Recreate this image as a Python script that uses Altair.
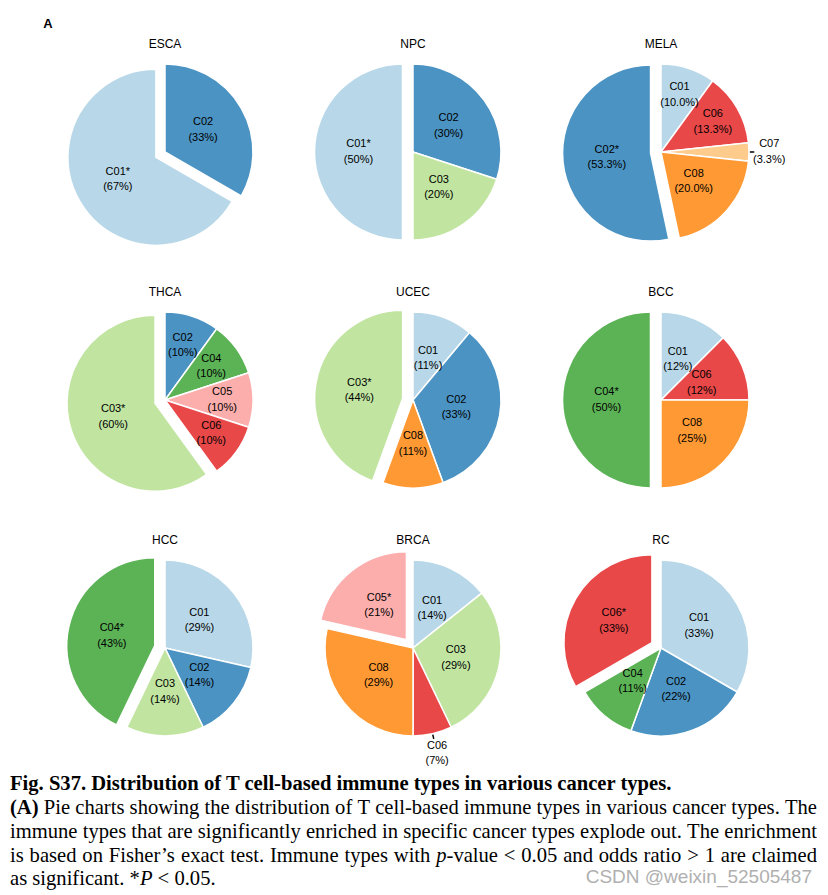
import math
import re
import altair as alt
import pandas as pd

# ---------------- data ----------------
cancers = ["ESCA", "NPC", "MELA", "THCA", "UCEC", "BCC", "HCC", "BRCA", "RC"]
types = {
    "ESCA": ["C02", "C01"],
    "NPC": ["C02", "C03", "C01"],
    "MELA": ["C01", "C06", "C07", "C08", "C02"],
    "THCA": ["C02", "C04", "C05", "C06", "C03"],
    "UCEC": ["C01", "C02", "C08", "C03"],
    "BCC": ["C01", "C06", "C08", "C04"],
    "HCC": ["C01", "C02", "C03", "C04"],
    "BRCA": ["C01", "C03", "C06", "C08", "C05"],
    "RC": ["C01", "C02", "C04", "C06"],
}
counts = {
    "ESCA": [1, 2],
    "NPC": [3, 2, 5],
    "MELA": [3, 4, 1, 6, 16],
    "THCA": [1, 1, 1, 1, 6],
    "UCEC": [1, 3, 1, 4],
    "BCC": [1, 1, 2, 4],
    "HCC": [2, 1, 1, 3],
    "BRCA": [2, 4, 1, 4, 3],
    "RC": [3, 2, 1, 3],
}
significant = {"ESCA": "C01", "NPC": "C01", "MELA": "C02", "THCA": "C03", "UCEC": "C03",
               "BCC": "C04", "HCC": "C04", "BRCA": "C05", "RC": "C06"}
pct_digits = {"MELA": 1}
type_order = ["C01", "C02", "C03", "C04", "C05", "C06", "C07", "C08"]
type_colors = ["#b8d8e9", "#4b93c3", "#c1e5a1", "#5cb356", "#fcaead", "#e94849", "#fdcc8c", "#ff9933"]

caption_title = "Fig. S37. Distribution of T cell-based immune types in various cancer types."
# ^..^ = bold, ~..~ = italic; the last line is not justified
caption_lines = [
    "^(A)^ Pie charts showing the distribution of T cell-based immune types in various cancer types. The",
    "immune types that are significantly enriched in specific cancer types explode out. The enrichment",
    "is based on Fisher\u2019s exact test. Immune types with ~p~-value < 0.05 and odds ratio > 1 are claimed",
    "as significant. *~P~ < 0.05.",
]
watermark = "CSDN @weixin_52505487"

# ---------------- layout constants ----------------
R = 88
CX, CY = 157, 144
EXP = 10.5
PW, PH = 248, 248
LABEL_R = 0.5
LABEL_R_CROWDED = {"THCA": 0.65, "MELA": 0.68}
LINE_H = 15.5
SANS = "Liberation Sans"
SERIF = "Liberation Serif"
FS = 20.6
CAP_Y0 = 248
CAP_X0, CAP_W = 2, 807
CAP_Y = [56, 80, 104, 127]

rows = []
for c in cancers:
    total = sum(counts[c])
    for i, (t, n) in enumerate(zip(types[c], counts[c])):
        p = 100 * n / total
        d = pct_digits.get(c, 0)
        star = "*" if t == significant[c] else ""
        lr = LABEL_R_CROWDED.get(c, LABEL_R) if n / total < 0.15 else LABEL_R
        rows.append(dict(cancer=c, order=i, type=t, n=n, exploded=1 if star else 0,
                         lrel=lr, label=f"{t}{star}\n({p:.{d}f}%)"))
df = pd.DataFrame(rows)

# ---- caption word layout (Times metrics, per 1000 em) ----
TIMES = {" ": 250, "(": 333, ")": 333, ".": 250, ",": 250, "-": 333, "<": 564, ">": 564, "*": 500,
         "\u2019": 333, "0": 500, "1": 500, "5": 500,
         "A": 722, "F": 556, "I": 333, "P": 556, "T": 611,
         "a": 444, "b": 500, "c": 444, "d": 500, "e": 444, "f": 333, "g": 500, "h": 500, "i": 278,
         "j": 278, "k": 500, "l": 278, "m": 778, "n": 500, "o": 500, "p": 500, "q": 500, "r": 333,
         "s": 389, "t": 278, "u": 500, "v": 500, "w": 722, "x": 500, "y": 500, "z": 444}
TIMES_B = {"(": 333, ")": 333, "A": 722}
TIMES_I = {"p": 500, "P": 611}


def piece_w(text, style):
    tab = {"b": TIMES_B, "i": TIMES_I}.get(style, {})
    return sum(tab.get(ch, TIMES.get(ch, 500)) for ch in text) * FS / 1000


cap_rows = []
for li, line in enumerate(caption_lines):
    words = []
    for tok in line.split(" "):
        pieces = []
        for b, it, r in re.findall(r"\^([^^]+)\^|~([^~]+)~|([^^~]+)", tok):
            pieces.append((b, "b") if b else (it, "i") if it else (r, "r"))
        words.append(pieces)
    widths = [sum(piece_w(t, s) for t, s in w) for w in words]
    space = TIMES[" "] * FS / 1000
    gap = space
    if li < len(caption_lines) - 1:
        gap = (CAP_W - sum(widths)) / (len(words) - 1)
    x = CAP_X0
    for w, ww in zip(words, widths):
        px = x
        for t, s in w:
            cap_rows.append(dict(text=t, x=px, y=CAP_Y0 + CAP_Y[li], style=s))
            px += piece_w(t, s)
        x += ww + gap
cap_df = pd.DataFrame(cap_rows)

xs = alt.Scale(domain=[0, PW], nice=False, zero=False)
ys = alt.Scale(domain=[PH, 0], nice=False, zero=False)


def caption_layers():
    out = []
    for s, weight, fstyle in [("r", "normal", "normal"), ("b", "bold", "normal"), ("i", "normal", "italic")]:
        out.append(
            alt.Chart(cap_df).transform_filter(alt.datum.style == s).mark_text(
                font=SERIF, fontSize=FS, fontWeight=weight, fontStyle=fstyle, align="left",
                baseline="middle", color="black").encode(
                x=alt.X("x:Q", scale=xs, axis=None), y=alt.Y("y:Q", scale=ys, axis=None), text="text:N"))
    out.append(alt.Chart(pd.DataFrame({"t": [caption_title]})).mark_text(
        font=SERIF, fontSize=FS, fontWeight="bold", align="left", baseline="middle", color="black").encode(
        x=alt.value(CAP_X0), y=alt.value(CAP_Y0 + 32), text="t:N"))
    out.append(alt.Chart(pd.DataFrame({"t": [watermark]})).mark_text(
        font=SANS, fontSize=19, align="right", baseline="middle", color="#b0b0b0").encode(
        x=alt.value(804), y=alt.value(CAP_Y0 + 125), text="t:N"))
    return out


def panel(c, idx):
    base = (
        alt.Chart(df)
        .transform_filter(alt.datum.cancer == c)
        .transform_joinaggregate(total="sum(n)")
        .transform_window(cum="sum(n)", sort=[alt.SortField("order")], frame=[None, 0])
        .transform_calculate(
            f0="(datum.cum - datum.n) / datum.total",
            f1="datum.cum / datum.total",
            mid="PI * (2 * datum.cum - datum.n) / datum.total",
            small="datum.n / datum.total < 0.08 ? 1 : 0",
        )
        .transform_calculate(
            ox=f"{CX} + datum.exploded * {EXP} * sin(datum.mid)",
            oy=f"{CY} - datum.exploded * {EXP} * cos(datum.mid)",
            lr=f"datum.small ? {R * 1.23} : {R} * datum.lrel",
        )
        .transform_calculate(
            lx="datum.ox + datum.lr * sin(datum.mid)",
            ly="datum.oy - datum.lr * cos(datum.mid)",
            t0x=f"datum.ox + {R * 1.01} * sin(datum.mid)",
            t0y=f"datum.oy - {R * 1.01} * cos(datum.mid)",
            t1x=f"datum.ox + {R * 1.06} * sin(datum.mid)",
            t1y=f"datum.oy - {R * 1.06} * cos(datum.mid)",
        )
    )
    arcs = base.mark_arc(radius=R, stroke="white", strokeWidth=1.5).encode(
        theta=alt.Theta("f0:Q", scale=alt.Scale(domain=[0, 1], range=[0, 2 * math.pi]), stack=False),
        theta2=alt.Theta2("f1:Q"),
        x=alt.X("ox:Q", scale=xs, axis=None, stack=False),
        y=alt.Y("oy:Q", scale=ys, axis=None, stack=False),
        color=alt.Color("type:N", scale=alt.Scale(domain=type_order, range=type_colors), legend=None),
    )
    labels = base.mark_text(font=SANS, fontSize=11, lineBreak="\n", lineHeight=LINE_H,
                            dy=-LINE_H / 2, color="black").encode(
        x=alt.X("lx:Q", scale=xs, axis=None),
        y=alt.Y("ly:Q", scale=ys, axis=None),
        text="label:N",
    )
    ticks = base.transform_filter("datum.small == 1").mark_rule(color="black", strokeWidth=1.5).encode(
        x=alt.X("t0x:Q", scale=xs, axis=None),
        y=alt.Y("t0y:Q", scale=ys, axis=None),
        x2="t1x:Q",
        y2="t1y:Q",
    )
    title = alt.Chart(pd.DataFrame({"name": [c]})).mark_text(font=SANS, fontSize=12, color="black").encode(
        x=alt.value(CX), y=alt.value(36), text="name:N")
    layers = [arcs, labels, ticks, title]
    if idx == 0:
        layers.append(
            alt.Chart(pd.DataFrame({"t": ["A"]})).mark_text(font=SANS, fontSize=13, fontWeight="bold",
                                                            color="black").encode(
                x=alt.value(40), y=alt.value(16), text="t:N"))
    if idx == 6:
        layers.extend(caption_layers())
    return alt.layer(*layers).properties(width=PW, height=PH)


panels = [panel(c, i) for i, c in enumerate(cancers)]

chart = alt.concat(*panels, columns=3, spacing=0, bounds="flush").properties(
    padding=0, background="white").configure_view(stroke=None)

chart.save("out.html", embed_options={"renderer": "svg", "actions": False})
